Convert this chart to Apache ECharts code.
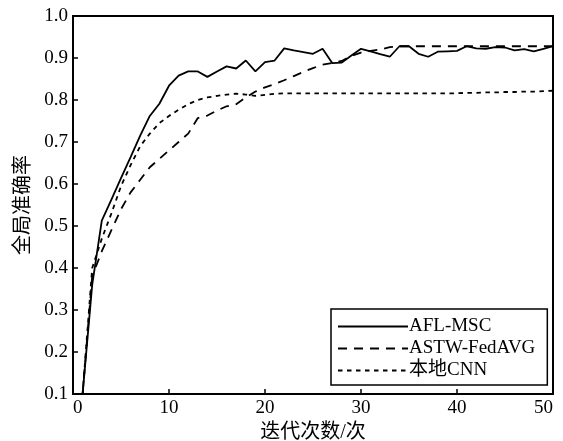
<!DOCTYPE html>
<html><head><meta charset="utf-8">
<script src="https://cdn.jsdelivr.net/npm/echarts@6/dist/echarts.min.js"></script>
<style>html,body{margin:0;padding:0;background:#fff}#c{width:563px;height:441px}</style>
</head><body><div id="c"></div>
<script>
var iterations = [];
for (var i = 1; i <= 50; i++) iterations.push(i);
var aflMsc = [0.10,0.36,0.513,0.563,0.614,0.664,0.715,0.762,0.791,0.834,0.858,0.868,0.868,0.855,0.868,0.880,0.875,0.894,0.868,0.890,0.894,0.923,0.918,0.914,0.910,0.922,0.888,0.889,0.906,0.922,0.916,0.909,0.903,0.928,0.928,0.910,0.903,0.915,0.916,0.917,0.928,0.923,0.922,0.926,0.925,0.918,0.921,0.916,0.922,0.928];
var astwFedAvg = [0.10,0.38,0.44,0.49,0.54,0.58,0.61,0.64,0.66,0.68,0.70,0.72,0.757,0.763,0.775,0.785,0.790,0.806,0.820,0.830,0.838,0.847,0.857,0.867,0.876,0.884,0.888,0.893,0.905,0.913,0.917,0.920,0.926,0.928,0.928,0.928,0.928,0.928,0.928,0.928,0.928,0.928,0.928,0.928,0.928,0.928,0.928,0.928,0.928,0.928];
var localCnn = [0.10,0.40,0.47,0.53,0.595,0.645,0.69,0.72,0.745,0.762,0.777,0.790,0.800,0.806,0.810,0.813,0.815,0.813,0.810,0.812,0.815,0.816,0.816,0.816,0.816,0.816,0.816,0.816,0.816,0.816,0.816,0.816,0.816,0.816,0.816,0.816,0.816,0.816,0.816,0.816,0.817,0.817,0.818,0.818,0.819,0.819,0.820,0.820,0.821,0.822];
var seriesNames = ['AFL-MSC', 'ASTW-FedAVG', '本地CNN'];
var xTitle = '迭代次数/次';
var yTitle = '全局准确率';

function pairs(arr) { return arr.map(function (v, k) { return [iterations[k], v]; }); }
var FONT = '"Liberation Serif", "Noto Sans CJK SC", serif';
var chart = echarts.init(document.getElementById('c'));
chart.setOption({
  animation: false,
  backgroundColor: '#fff',
  grid: { left: 73, right: 10, top: 16, bottom: 47, outerBoundsMode: 'none', containLabel: false, show: true, borderColor: '#000', borderWidth: 2, backgroundColor: 'transparent' },
  xAxis: {
    type: 'value', min: 0, max: 50, interval: 10,
    name: xTitle, nameLocation: 'middle', nameGap: 26,
    nameTextStyle: { fontFamily: FONT, fontSize: 20, color: '#000' },
    axisLine: { show: true, lineStyle: { color: '#000', width: 2 } },
    axisTick: { show: true, inside: true, length: 5, lineStyle: { color: '#000', width: 1.5 } },
    axisLabel: { fontFamily: FONT, fontSize: 19, color: '#000', margin: 5, alignMinLabel: 'left', alignMaxLabel: 'right' },
    splitLine: { show: false }
  },
  yAxis: {
    type: 'value', min: 0.1, max: 1.0, interval: 0.1,
    name: yTitle, nameLocation: 'middle', nameGap: 35, nameRotate: 90,
    nameTextStyle: { fontFamily: FONT, fontSize: 20, color: '#000' },
    axisLine: { show: true, lineStyle: { color: '#000', width: 2 } },
    axisTick: { show: true, inside: true, length: 5, lineStyle: { color: '#000', width: 1.5 } },
    axisLabel: { fontFamily: FONT, fontSize: 19, color: '#000', margin: 5, formatter: function (v) { return v.toFixed(1); } },
    splitLine: { show: false }
  },
  legend: {
    orient: 'vertical', left: 331, top: 309,
    padding: [8, 12, 5, 6], itemGap: 3, itemWidth: 70, itemHeight: 14,
    borderColor: '#000', borderWidth: 1.5, backgroundColor: '#fff',
    itemStyle: { color: 'transparent', borderWidth: 0, opacity: 0 },
    textStyle: { fontFamily: FONT, fontSize: 19, color: '#000', padding: [0, 0, 0, -4] },
    data: seriesNames
  },
  series: [
    { name: seriesNames[0], type: 'line', data: pairs(aflMsc), symbol: 'none', clip: true, lineStyle: { color: '#000', width: 1.8, type: 'solid' }, itemStyle: { color: '#000' } },
    { name: seriesNames[1], type: 'line', data: pairs(astwFedAvg), symbol: 'none', clip: true, lineStyle: { color: '#000', width: 1.8, type: [9, 7] }, itemStyle: { color: '#000' } },
    { name: seriesNames[2], type: 'line', data: pairs(localCnn), symbol: 'none', clip: true, lineStyle: { color: '#000', width: 1.8, type: [4.5, 4.5] }, itemStyle: { color: '#000' } }
  ]
});
</script></body></html>
